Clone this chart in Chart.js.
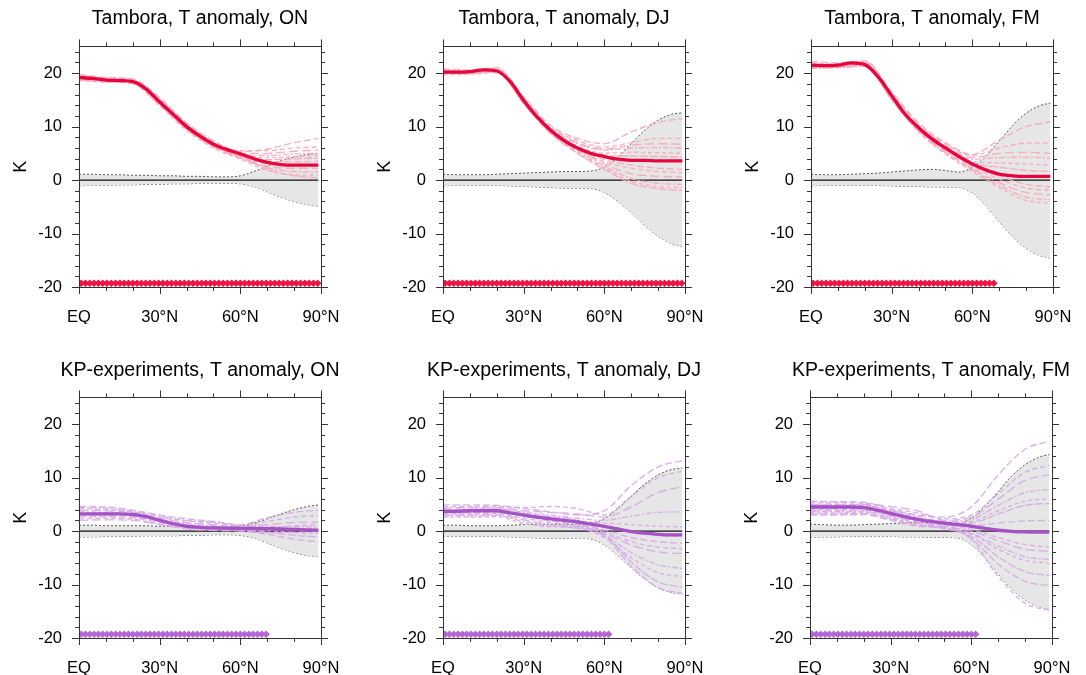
<!DOCTYPE html>
<html>
<head>
<meta charset="utf-8">
<script src="https://cdn.jsdelivr.net/npm/chart.js@4.4.1/dist/chart.umd.min.js"></script>
<style>
  body { margin: 0; background: #fff; overflow: hidden; width: 1086px; height: 675px; position: relative; }
  canvas { position: absolute; }
</style>
</head>
<body>
<canvas id="c0" width="400" height="324" style="left:0px;top:0px"></canvas>
<canvas id="c1" width="400" height="324" style="left:364px;top:0px"></canvas>
<canvas id="c2" width="400" height="324" style="left:732px;top:0px"></canvas>
<canvas id="c3" width="400" height="324" style="left:0px;top:351px"></canvas>
<canvas id="c4" width="400" height="324" style="left:364px;top:351px"></canvas>
<canvas id="c5" width="400" height="324" style="left:731px;top:351px"></canvas>
<script>
// latitude grids (degrees N)
const latMean = [0, 5, 10, 15, 20, 25, 30, 35, 40, 45, 50, 55, 60, 65, 70, 75, 80, 85, 89];
const latMember = [0, 10, 20, 30, 40, 50, 60, 70, 80, 89];
const sigGrid = [0.8, 2.4, 4.0, 5.6, 7.2, 8.8, 10.4, 12.0, 13.6, 15.2, 16.8, 18.4, 20.0, 21.6,
  23.2, 24.8, 26.4, 28.0, 29.6, 31.2, 32.8, 34.4, 36.0, 37.6, 39.2, 40.8, 42.4, 44.0, 45.6,
  47.2, 48.8, 50.4, 52.0, 53.6, 55.2, 56.8, 58.4, 60.0, 61.6, 63.2, 64.8, 66.4, 68.0, 69.6,
  71.2, 72.8, 74.4, 76.0, 77.6, 79.2, 80.8, 82.4, 84.0, 85.6, 87.2, 88.8];
const sigCount = [56, 56, 43, 44, 39, 39];
const sigLevel = -19.3;
const zeroRef = 0;

const xMajor = [0, 30, 60, 90];
const xMinor = [10, 20, 40, 50, 70, 80];
const xLabels = ['EQ', '30°N', '60°N', '90°N'];
const yMajor = [-20, -10, 0, 10, 20];
const yMinor = [-18, -16, -14, -12, -8, -6, -4, -2, 2, 4, 6, 8, 12, 14, 16, 18, 22, 24];

// ---- Tambora ON
const tamON_mean = [19.2, 19.0, 18.7, 18.6, 18.4, 17.0, 14.6, 12.3, 10.0, 8.2, 6.7, 5.7, 4.9, 4.0, 3.3, 2.9, 2.8, 2.8, 2.8];
const tamON_hi = [1.1, 1.1, 1.0, 1.0, 0.9, 0.9, 0.8, 0.8, 0.7, 0.7, 0.6, 0.6, 0.8, 1.6, 2.6, 3.6, 4.3, 4.8, 5.0];
const tamON_lo = [-1.1, -1.0, -1.0, -0.9, -0.9, -0.8, -0.8, -0.7, -0.7, -0.6, -0.6, -0.6, -0.7, -1.2, -2.2, -3.2, -4.0, -4.6, -4.9];
const tamON_members = [
  [19.8, 19.2, 18.9, 15.4, 10.7, 7.4, 5.3, 5.8, 7.0, 7.8],
  [19.5, 19.0, 18.7, 15.0, 10.4, 7.2, 5.5, 5.5, 6.0, 6.2],
  [19.3, 18.9, 18.5, 14.8, 10.2, 6.9, 5.0, 5.0, 5.4, 5.6],
  [19.1, 18.6, 18.4, 14.6, 10.0, 6.8, 4.8, 4.6, 4.9, 5.0],
  [18.9, 18.5, 18.2, 14.3, 9.8, 6.6, 4.9, 4.2, 4.4, 4.6],
  [19.0, 18.8, 18.3, 14.2, 9.7, 6.5, 4.5, 3.8, 4.0, 4.1],
  [18.7, 18.4, 18.0, 14.0, 9.5, 6.3, 4.3, 3.4, 3.4, 3.5],
  [19.4, 18.7, 18.6, 14.9, 10.3, 6.7, 4.4, 3.0, 2.8, 2.8],
  [18.8, 18.6, 18.3, 14.4, 9.6, 6.2, 4.1, 2.6, 2.2, 2.2],
  [19.2, 18.9, 18.5, 14.7, 9.9, 6.4, 4.2, 2.3, 1.6, 1.5],
  [18.6, 18.3, 18.1, 13.9, 9.3, 6.0, 3.9, 1.8, 1.0, 0.9],
  [19.6, 19.1, 18.8, 15.2, 10.6, 7.0, 4.6, 2.0, 0.8, 0.4]
];

// ---- Tambora DJ
const tamDJ_mean = [20.2, 20.2, 20.3, 20.6, 20.4, 18.4, 14.9, 11.8, 9.3, 7.4, 6.0, 5.0, 4.4, 3.9, 3.7, 3.7, 3.6, 3.6, 3.6];
const tamDJ_hi = [1.1, 1.0, 1.0, 1.0, 1.1, 1.2, 1.3, 1.4, 1.5, 1.6, 1.6, 1.7, 2.4, 4.3, 6.8, 9.3, 11.2, 12.3, 12.6];
const tamDJ_lo = [-1.1, -1.0, -1.0, -1.0, -1.0, -1.1, -1.2, -1.3, -1.4, -1.5, -1.5, -1.6, -2.3, -4.0, -6.1, -8.5, -10.5, -11.9, -12.5];
const tamDJ_members = [
  [20.8, 20.6, 21.0, 15.6, 10.2, 7.8, 6.8, 9.0, 10.8, 11.5],
  [20.6, 20.4, 20.8, 15.4, 9.9, 7.4, 6.2, 7.0, 7.8, 7.8],
  [20.4, 20.3, 20.7, 15.2, 9.7, 7.0, 5.8, 6.5, 6.8, 6.7],
  [20.3, 20.2, 20.6, 15.0, 9.5, 6.8, 5.6, 6.0, 6.1, 6.0],
  [20.1, 20.1, 20.5, 14.8, 9.4, 6.4, 5.0, 5.2, 5.1, 5.0],
  [20.0, 20.0, 20.3, 14.6, 9.2, 6.1, 4.6, 4.5, 4.4, 4.3],
  [19.9, 20.2, 20.4, 14.9, 9.1, 5.8, 3.8, 2.8, 2.2, 2.0],
  [19.8, 19.9, 20.2, 14.5, 8.9, 5.6, 3.4, 2.2, 1.6, 1.4],
  [20.5, 20.3, 20.6, 15.1, 9.3, 5.9, 3.0, 1.2, 0.7, 0.6],
  [20.2, 20.0, 20.4, 14.7, 9.0, 5.5, 2.6, 0.3, -0.6, -0.8],
  [19.7, 19.8, 20.1, 14.4, 8.8, 5.2, 2.3, -0.2, -1.2, -1.4],
  [20.0, 20.1, 20.3, 14.3, 8.7, 5.0, 2.0, -0.6, -1.6, -1.9]
];

// ---- Tambora FM
const tamFM_mean = [21.5, 21.4, 21.5, 21.9, 21.6, 19.3, 15.8, 12.3, 9.8, 7.7, 6.0, 4.4, 3.0, 1.9, 1.1, 0.8, 0.7, 0.7, 0.7];
const tamFM_hi = [1.1, 1.0, 1.0, 1.1, 1.2, 1.3, 1.5, 1.7, 1.9, 2.0, 1.8, 1.5, 2.4, 4.5, 7.3, 10.2, 12.5, 13.9, 14.4];
const tamFM_lo = [-1.1, -1.0, -1.0, -1.0, -1.0, -1.0, -1.1, -1.2, -1.2, -1.3, -1.3, -1.4, -2.4, -4.8, -7.8, -10.6, -12.8, -14.1, -14.6];
const tamFM_members = [
  [22.2, 21.9, 22.3, 16.5, 10.7, 7.0, 4.8, 7.5, 10.0, 10.9],
  [21.9, 21.7, 22.1, 16.2, 10.4, 6.8, 4.6, 6.0, 6.9, 6.9],
  [21.7, 21.6, 22.0, 16.0, 10.2, 6.5, 4.2, 5.0, 5.2, 5.0],
  [21.5, 21.4, 21.8, 15.8, 10.0, 6.3, 3.9, 4.2, 4.3, 4.1],
  [21.4, 21.5, 21.7, 15.6, 9.8, 6.1, 3.5, 3.2, 3.0, 2.8],
  [21.3, 21.3, 21.6, 15.4, 9.6, 5.9, 3.2, 2.4, 1.8, 1.6],
  [21.2, 21.2, 21.5, 15.3, 9.5, 5.7, 2.8, 0.8, -0.8, -1.3],
  [21.0, 21.1, 21.4, 15.1, 9.3, 5.5, 2.5, 0.2, -1.5, -1.9],
  [21.6, 21.4, 21.7, 15.5, 9.4, 5.3, 2.2, -0.5, -2.3, -2.8],
  [20.9, 21.0, 21.3, 15.0, 9.1, 5.1, 1.9, -1.0, -3.2, -3.7],
  [21.1, 21.2, 21.6, 15.2, 9.0, 4.9, 1.6, -1.4, -3.8, -4.3]
];

// ---- KP ON
const kpON_mean = [3.2, 3.2, 3.2, 3.2, 3.1, 2.7, 2.0, 1.4, 0.9, 0.7, 0.6, 0.55, 0.5, 0.5, 0.45, 0.4, 0.3, 0.2, 0.15];
const kpON_hi = [1.1, 1.1, 1.0, 1.0, 1.0, 1.0, 0.9, 0.9, 0.9, 0.8, 0.8, 0.8, 0.9, 1.5, 2.3, 3.2, 4.0, 4.6, 4.9];
const kpON_lo = [-1.1, -1.1, -1.0, -1.0, -1.0, -0.9, -0.9, -0.9, -0.8, -0.8, -0.7, -0.7, -0.8, -1.3, -2.2, -3.2, -4.0, -4.6, -4.8];
const kpON_members = [
  [4.6, 4.5, 3.9, 3.0, 2.3, 1.8, 1.2, 2.5, 3.5, 3.9],
  [4.2, 4.0, 3.6, 2.6, 1.9, 1.5, 0.9, 1.8, 2.6, 2.9],
  [3.9, 3.8, 3.4, 2.4, 1.6, 1.2, 0.7, 1.2, 1.6, 1.7],
  [3.6, 3.5, 3.2, 2.2, 1.4, 1.0, 0.5, 0.5, 0.5, 0.4],
  [3.3, 3.3, 3.0, 2.0, 1.2, 0.8, 0.4, 0.1, -0.3, -0.5],
  [3.0, 3.0, 2.8, 1.8, 1.0, 0.6, 0.3, -0.2, -0.8, -1.1],
  [2.7, 2.7, 2.5, 1.6, 0.8, 0.4, 0.1, -0.6, -1.5, -2.0],
  [2.3, 2.4, 2.2, 1.3, 0.6, 0.3, 0.2, 0.4, 1.0, 1.2],
  [2.0, 2.1, 2.0, 1.2, 0.4, 0.1, 0.0, -0.3, -0.2, -0.1],
  [4.4, 4.3, 3.7, 2.8, 2.0, 1.7, 1.0, 0.9, 0.8, 0.8]
];

// ---- KP DJ
const kpDJ_mean = [3.7, 3.7, 3.8, 3.8, 3.8, 3.4, 3.0, 2.6, 2.3, 2.0, 1.7, 1.3, 0.9, 0.4, -0.1, -0.4, -0.6, -0.7, -0.7];
const kpDJ_hi = [1.1, 1.1, 1.0, 1.0, 1.0, 1.1, 1.2, 1.3, 1.3, 1.3, 1.3, 1.5, 2.3, 4.2, 6.5, 8.8, 10.5, 11.5, 11.8];
const kpDJ_lo = [-1.0, -1.0, -1.0, -1.0, -1.0, -1.1, -1.2, -1.3, -1.4, -1.4, -1.3, -1.5, -2.6, -4.6, -6.9, -9.0, -10.6, -11.5, -11.8];
const kpDJ_members = [
  [4.9, 4.9, 4.8, 4.2, 3.6, 3.0, 3.8, 8.5, 12.0, 13.2],
  [4.6, 4.6, 4.6, 4.4, 4.6, 4.2, 3.0, 6.5, 10.0, 11.2],
  [4.3, 4.4, 4.4, 3.8, 3.5, 3.2, 2.6, 4.5, 7.2, 8.3],
  [4.0, 4.1, 4.2, 3.5, 3.0, 2.4, 2.0, 2.8, 3.5, 3.6],
  [3.8, 3.8, 3.9, 3.2, 2.5, 1.9, 1.5, 1.2, 0.9, 0.8],
  [3.6, 3.6, 3.7, 3.0, 2.2, 1.6, 0.8, -0.2, -0.8, -1.0],
  [3.4, 3.4, 3.5, 2.8, 1.9, 1.2, 0.2, -1.2, -2.0, -2.3],
  [3.2, 3.2, 3.3, 2.4, 1.6, 0.9, -0.2, -2.0, -3.0, -3.3],
  [3.0, 3.0, 3.1, 2.1, 1.2, 0.5, -0.5, -2.6, -3.9, -4.2],
  [2.8, 2.8, 2.9, 1.8, 1.0, 0.9, -0.8, -4.0, -6.3, -7.0],
  [2.6, 2.6, 2.7, 1.4, 0.8, 0.6, -1.2, -5.0, -7.8, -8.5],
  [4.1, 4.0, 4.0, 3.3, 2.7, 2.0, -0.5, -5.8, -9.5, -10.5],
  [3.5, 3.6, 3.6, 2.9, 2.0, 1.4, -1.0, -6.5, -10.6, -11.6]
];

// ---- KP FM
const kpFM_mean = [4.5, 4.5, 4.5, 4.5, 4.4, 3.9, 3.3, 2.7, 2.2, 1.8, 1.5, 1.2, 0.9, 0.5, 0.15, -0.05, -0.15, -0.2, -0.2];
const kpFM_hi = [1.3, 1.2, 1.1, 1.1, 1.2, 1.3, 1.4, 1.5, 1.6, 1.6, 1.5, 1.4, 2.4, 4.6, 7.4, 10.3, 12.4, 13.8, 14.3];
const kpFM_lo = [-1.2, -1.1, -1.1, -1.0, -1.0, -1.0, -1.0, -1.1, -1.1, -1.2, -1.2, -1.3, -2.6, -5.0, -8.0, -10.8, -12.9, -14.1, -14.6];
const kpFM_members = [
  [5.6, 5.5, 5.4, 4.0, 3.0, 2.6, 4.5, 10.5, 15.3, 16.8],
  [5.3, 5.3, 5.2, 4.2, 3.4, 2.3, 3.0, 7.0, 11.0, 12.3],
  [5.0, 5.0, 5.0, 4.6, 3.8, 2.0, 2.6, 6.0, 9.5, 10.5],
  [4.8, 4.8, 4.8, 3.8, 2.8, 1.8, 2.2, 4.8, 7.2, 7.8],
  [4.6, 4.6, 4.7, 3.6, 2.5, 1.6, 1.8, 3.8, 5.6, 6.0],
  [4.4, 4.4, 4.5, 3.4, 2.3, 1.4, 1.5, 3.2, 4.8, 5.2],
  [4.2, 4.2, 4.3, 3.2, 2.1, 1.2, 1.0, 1.5, 1.9, 2.0],
  [4.0, 4.0, 4.1, 3.0, 1.9, 1.0, 0.3, -1.2, -2.5, -3.0],
  [3.8, 3.8, 3.9, 2.8, 1.7, 0.8, 0.0, -1.8, -3.4, -3.8],
  [3.6, 3.6, 3.7, 2.6, 1.5, 0.6, -0.4, -2.8, -4.8, -5.3],
  [3.4, 3.4, 3.5, 2.4, 1.3, 0.4, -0.6, -3.4, -5.5, -6.0],
  [3.2, 3.2, 3.3, 2.2, 1.1, 0.5, -1.0, -4.8, -7.6, -8.3],
  [3.0, 3.0, 3.1, 2.0, 0.9, 0.6, -1.4, -6.2, -9.4, -10.2],
  [4.9, 4.9, 4.9, 3.7, 2.4, 1.2, -1.5, -8.5, -13.5, -14.8]
];

const styles = {
  tam: { mean: '#E5063E', member: 'rgba(246, 168, 188, 0.9)', marker: '#EE1443', titlePad: { top: 7, bottom: 16 } },
  kp: { mean: '#A452C4', member: 'rgba(214, 170, 230, 0.9)', marker: '#B466D2', titlePad: { top: 8, bottom: 15 } }
};
const dashes = [[7, 3], [5, 3], [9, 4], [6, 2, 2, 2], [4, 3], [8, 2]];

const panels = [
  { id: 'c0', title: 'Tambora, T anomaly, ON', kind: 'tam', mean: tamON_mean, hi: tamON_hi, lo: tamON_lo, members: tamON_members, sig: sigCount[0] },
  { id: 'c1', title: 'Tambora, T anomaly, DJ', kind: 'tam', mean: tamDJ_mean, hi: tamDJ_hi, lo: tamDJ_lo, members: tamDJ_members, sig: sigCount[1] },
  { id: 'c2', title: 'Tambora, T anomaly, FM', kind: 'tam', mean: tamFM_mean, hi: tamFM_hi, lo: tamFM_lo, members: tamFM_members, sig: sigCount[2] },
  { id: 'c3', title: 'KP-experiments, T anomaly, ON', kind: 'kp', mean: kpON_mean, hi: kpON_hi, lo: kpON_lo, members: kpON_members, sig: sigCount[3] },
  { id: 'c4', title: 'KP-experiments, T anomaly, DJ', kind: 'kp', mean: kpDJ_mean, hi: kpDJ_hi, lo: kpDJ_lo, members: kpDJ_members, sig: sigCount[4] },
  { id: 'c5', title: 'KP-experiments, T anomaly, FM', kind: 'kp', mean: kpFM_mean, hi: kpFM_hi, lo: kpFM_lo, members: kpFM_members, sig: sigCount[5] }
];

Chart.defaults.font.family = '"Liberation Sans", Arial, Helvetica, sans-serif';
Chart.defaults.color = '#000';

// box with outward major/minor ticks on all four sides
const frameTicks = {
  id: 'frameTicks',
  afterDatasetsDraw(chart) {
    const { ctx, chartArea: a, scales: { x, y } } = chart;
    ctx.save();
    ctx.strokeStyle = '#333';
    ctx.lineWidth = 1;
    ctx.strokeRect(Math.round(a.left) + 0.5, Math.round(a.top) + 0.5,
      Math.round(a.right - a.left), Math.round(a.bottom - a.top));
    ctx.beginPath();
    const xt = (vals, len) => vals.forEach(v => {
      const px = Math.round(x.getPixelForValue(v)) + 0.5;
      ctx.moveTo(px, a.bottom); ctx.lineTo(px, a.bottom + len);
      ctx.moveTo(px, a.top); ctx.lineTo(px, a.top - len);
    });
    const yt = (vals, len) => vals.forEach(v => {
      const py = Math.round(y.getPixelForValue(v)) + 0.5;
      ctx.moveTo(a.left, py); ctx.lineTo(a.left - len, py);
      ctx.moveTo(a.right, py); ctx.lineTo(a.right + len, py);
    });
    xt(xMajor, 7); xt(xMinor, 4);
    yt(yMajor, 7); yt(yMinor, 4);
    ctx.stroke();
    ctx.restore();
  }
};

const pts = (xs, ys) => xs.map((v, i) => ({ x: v, y: ys[i] }));

panels.forEach(p => {
  const st = styles[p.kind];
  const datasets = [];
  datasets.push({
    data: pts(latMean, p.mean), borderColor: st.mean, borderWidth: 3.3,
    pointRadius: 0, cubicInterpolationMode: 'monotone', fill: false
  });
  datasets.push({
    data: sigGrid.slice(0, p.sig).map(v => ({ x: v, y: sigLevel })), showLine: false,
    pointStyle: 'rectRot', pointRadius: 3.8, backgroundColor: st.marker,
    borderColor: st.marker, borderWidth: 0, fill: false
  });
  p.members.forEach((m, i) => datasets.push({
    data: pts(latMember, m), borderColor: st.member, borderWidth: 1.4,
    borderDash: dashes[i % dashes.length], pointRadius: 0,
    cubicInterpolationMode: 'monotone', fill: false
  }));
  datasets.push({
    data: latMean.map(v => ({ x: v, y: zeroRef })), borderColor: '#111', borderWidth: 1.3,
    pointRadius: 0, fill: false
  });
  datasets.push({
    data: pts(latMean, p.hi), borderColor: '#555', borderWidth: 1, borderDash: [2, 2],
    pointRadius: 0, cubicInterpolationMode: 'monotone', fill: '+1', backgroundColor: '#E6E6E6'
  });
  datasets.push({
    data: pts(latMean, p.lo), borderColor: '#555', borderWidth: 1, borderDash: [2, 2],
    pointRadius: 0, cubicInterpolationMode: 'monotone', fill: false
  });

  new Chart(document.getElementById(p.id), {
    type: 'line',
    data: { datasets },
    options: {
      responsive: false,
      animation: false,
      layout: { padding: 0 },
      plugins: {
        legend: { display: false },
        tooltip: { enabled: false },
        title: {
          display: true, text: p.title,
          font: { size: 19.5, weight: 'normal' }, color: '#000',
          padding: st.titlePad
        }
      },
      scales: {
        x: {
          type: 'linear', min: 0, max: 90,
          grid: { display: false, drawTicks: false }, border: { display: false },
          afterBuildTicks: s => { s.ticks = xMajor.map(v => ({ value: v })); },
          afterFit: s => { s.height = 37; },
          ticks: {
            autoSkip: false, maxRotation: 0, padding: 21, font: { size: 16.5 },
            callback: v => xLabels[xMajor.indexOf(v)]
          }
        },
        y: {
          min: -20, max: 25,
          grid: { display: false, drawTicks: false }, border: { display: false },
          afterBuildTicks: s => { s.ticks = yMajor.map(v => ({ value: v })); },
          afterFit: s => { s.width = 79; },
          ticks: { padding: 17, font: { size: 16.5 } },
          title: { display: true, text: 'K', font: { size: 18 }, padding: { top: 10, bottom: 0 } }
        },
        yR: {
          position: 'right', display: true,
          grid: { display: false, drawTicks: false }, border: { display: false },
          ticks: { display: false },
          afterFit: s => { s.width = 79; }
        }
      }
    },
    plugins: [frameTicks]
  });
});
</script>
</body>
</html>
